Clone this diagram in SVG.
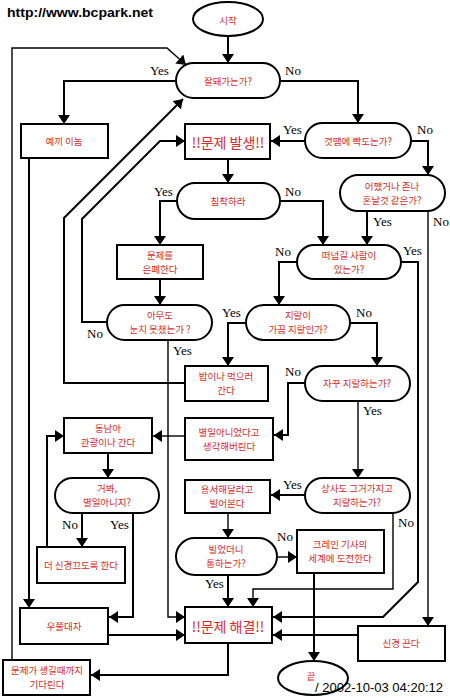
<svg xmlns="http://www.w3.org/2000/svg" width="450" height="698" viewBox="0 0 450 698">
<style>
.n{fill:#fff;stroke:#000;stroke-width:2}
.t{font-family:"Noto Sans CJK KR","Liberation Sans",sans-serif;font-size:9.5px;fill:#e02828;text-anchor:middle;dominant-baseline:central}
.big{font-size:14px}
.c path{fill:none;stroke:#000;stroke-width:2;marker-end:url(#a)}
.c path.thin{stroke-width:1.4}
.l{font-family:"Liberation Serif",serif;font-size:13px;fill:#000}
</style>
<defs>
<marker id="a" markerWidth="9" markerHeight="12" refX="9" refY="6" orient="auto" markerUnits="userSpaceOnUse">
<path d="M0,0 L9,6 L0,12 z" fill="#000"/>
</marker>
</defs>
<rect width="450" height="698" fill="#fff"/>
<text x="7" y="17" font-family="Liberation Sans,sans-serif" font-size="12" font-weight="bold" textLength="146" lengthAdjust="spacingAndGlyphs">http://www.bcpark.net</text>

<g class="c" id="connectors">
<path d="M228,36 V63"/>
<path d="M176,81 H64 V124"/>
<path d="M280,81 H358 V123"/>
<path d="M305,141 H271"/>
<path d="M411,141 H428 V175"/>
<path d="M228,159 V183"/>
<path d="M177,201 H160 V245"/>
<path d="M280,201 H323 V245"/>
<path d="M367,211 V245"/>
<path class="thin" d="M428,211 V626"/>
<path d="M297,262 H279 V305"/>
<path d="M401,262 H418 V582 L383,617 H273"/>
<path d="M160,279 V305"/>
<path d="M107,322 H82 V219 L160,141 H185"/>
<path class="thin" d="M168,340 V617 H185"/>
<path d="M185,383 H64 V218 L183,99"/>
<path d="M246,323 H228 V366"/>
<path d="M350,323 H377 V366"/>
<path d="M305,383 H288 V435 H274"/>
<path class="thin" d="M358,401 V478"/>
<path class="thin" d="M185,436 H153"/>
<path d="M108,453 V478"/>
<path d="M82,513 V547"/>
<path d="M133,513 V617 H109"/>
<path d="M47,547 V436 H64"/>
<path d="M29,158 V608"/>
<path d="M108,635 H185"/>
<path d="M305,495 H271"/>
<path class="thin" d="M393,513 V589 H253 V607"/>
<path class="thin" d="M228,513 V538"/>
<path class="thin" d="M277,557 H297"/>
<path d="M228,575 V607"/>
<path d="M314,573 V661"/>
<path d="M358,635 H273"/>
<path d="M228,643 V675 H91"/>
<path class="thin" d="M12,660 V48 H167 L186,65"/>
</g>

<g id="labels">
<text class="l" x="150" y="75">Yes</text>
<text class="l" x="285" y="75">No</text>
<text class="l" x="283" y="134">Yes</text>
<text class="l" x="417" y="134">No</text>
<text class="l" x="154" y="196">Yes</text>
<text class="l" x="285" y="196">No</text>
<text class="l" x="373" y="226">Yes</text>
<text class="l" x="433" y="226">No</text>
<text class="l" x="275" y="256">No</text>
<text class="l" x="403" y="255">Yes</text>
<text class="l" x="222" y="317">Yes</text>
<text class="l" x="356" y="317">No</text>
<text class="l" x="87" y="338">No</text>
<text class="l" x="173" y="355">Yes</text>
<text class="l" x="285" y="376">No</text>
<text class="l" x="363" y="415">Yes</text>
<text class="l" x="283" y="489">Yes</text>
<text class="l" x="62" y="529">No</text>
<text class="l" x="110" y="529">Yes</text>
<text class="l" x="277" y="541">No</text>
<text class="l" x="398" y="527">No</text>
<text class="l" x="205" y="588">Yes</text>
</g>

<g id="start"><ellipse class="n" cx="228" cy="19" rx="35" ry="17"/><text class="t" x="228" y="20">시작</text></g>
<g id="going-well"><rect class="n" x="176" y="63" width="104" height="35" rx="17.5"/><text class="t" x="228" y="81">잘돼가는가?</text></g>
<g id="yekki"><rect class="n" x="21" y="124" width="87" height="34"/><text class="t" x="64" y="141">예끼 이놈</text></g>
<g id="problem"><rect class="n" x="185" y="124" width="85" height="35"/><text class="t big" x="228" y="142">!!문제 발생!!</text></g>
<g id="mad"><rect class="n" x="305" y="123" width="106" height="35" rx="17.5"/><text class="t" x="358" y="141">것땜에 빡도는가?</text></g>
<g id="calm"><rect class="n" x="177" y="183" width="103" height="36" rx="18"/><text class="t" x="228" y="201">침착하라</text></g>
<g id="scolded"><rect class="n" x="340" y="175" width="105" height="36" rx="18"/><text class="t" x="392" y="186">어쨌거나 존나</text><text class="t" x="392" y="200">혼날것 같은가?</text></g>
<g id="hide"><rect class="n" x="117" y="245" width="86" height="34"/><text class="t" x="160" y="255">문제를</text><text class="t" x="160" y="269">은폐한다</text></g>
<g id="blame"><rect class="n" x="297" y="245" width="104" height="34" rx="17"/><text class="t" x="349" y="255">떠넘길 사람이</text><text class="t" x="349" y="269">있는가?</text></g>
<g id="noticed"><rect class="n" x="107" y="305" width="105" height="35" rx="17.5"/><text class="t" x="160" y="315">아무도</text><text class="t" x="160" y="329">눈치 못챘는가 ?</text></g>
<g id="sometimes"><rect class="n" x="246" y="305" width="104" height="35" rx="17.5"/><text class="t" x="298" y="315">지랄이</text><text class="t" x="298" y="329">가끔 지랄인가?</text></g>
<g id="eat"><rect class="n" x="185" y="366" width="83" height="35"/><text class="t" x="226" y="376">밥이나 먹으러</text><text class="t" x="226" y="390">간다</text></g>
<g id="often"><rect class="n" x="305" y="366" width="105" height="35" rx="17.5"/><text class="t" x="357" y="383">자꾸 지랄하는가?</text></g>
<g id="nothing"><rect class="n" x="185" y="418" width="88" height="42"/><text class="t" x="229" y="432">별일아니었다고</text><text class="t" x="229" y="446">생각해버린다</text></g>
<g id="travel"><rect class="n" x="64" y="418" width="88" height="35"/><text class="t" x="108" y="428">동남아</text><text class="t" x="108" y="442">관광이나 간다</text></g>
<g id="see"><rect class="n" x="55" y="478" width="104" height="35" rx="17.5"/><text class="t" x="107" y="488">거봐,</text><text class="t" x="107" y="502">별일아니지?</text></g>
<g id="boss"><rect class="n" x="305" y="478" width="105" height="35" rx="17.5"/><text class="t" x="357" y="488">상사도 그거가지고</text><text class="t" x="357" y="502">지랄하는가?</text></g>
<g id="beg"><rect class="n" x="185" y="480" width="85" height="33"/><text class="t" x="227" y="489">용서해달라고</text><text class="t" x="227" y="503">빌어본다</text></g>
<g id="worked"><rect class="n" x="176" y="538" width="101" height="37" rx="18.5"/><text class="t" x="226" y="549">빌었더니</text><text class="t" x="226" y="563">통하는가?</text></g>
<g id="crane"><rect class="n" x="297" y="530" width="87" height="43"/><text class="t" x="340" y="544">크레인 기사의</text><text class="t" x="340" y="558">세계에 도전한다</text></g>
<g id="ignore"><rect class="n" x="37" y="547" width="88" height="36"/><text class="t" x="81" y="565">더 신경끄도록 한다</text></g>
<g id="proud"><rect class="n" x="20" y="608" width="88" height="36"/><text class="t" x="64" y="626">우쭐대자</text></g>
<g id="solved"><rect class="n" x="185" y="607" width="87" height="36"/><text class="t big" x="228" y="626">!!문제 해결!!</text></g>
<g id="forget"><rect class="n" x="358" y="626" width="87" height="35"/><text class="t" x="401" y="643">신경 끈다</text></g>
<g id="wait"><rect class="n" x="3" y="660" width="87" height="35"/><text class="t" x="47" y="670">문제가 생길때까지</text><text class="t" x="47" y="684">기다린다</text></g>
<g id="end"><ellipse class="n" cx="313" cy="678" rx="35" ry="17"/><text class="t" x="311" y="676">끝</text></g>

<text x="315" y="692" font-family="Liberation Sans,sans-serif" font-size="13" fill="#000" textLength="128" lengthAdjust="spacingAndGlyphs">/ 2002-10-03 04:20:12</text>
</svg>
